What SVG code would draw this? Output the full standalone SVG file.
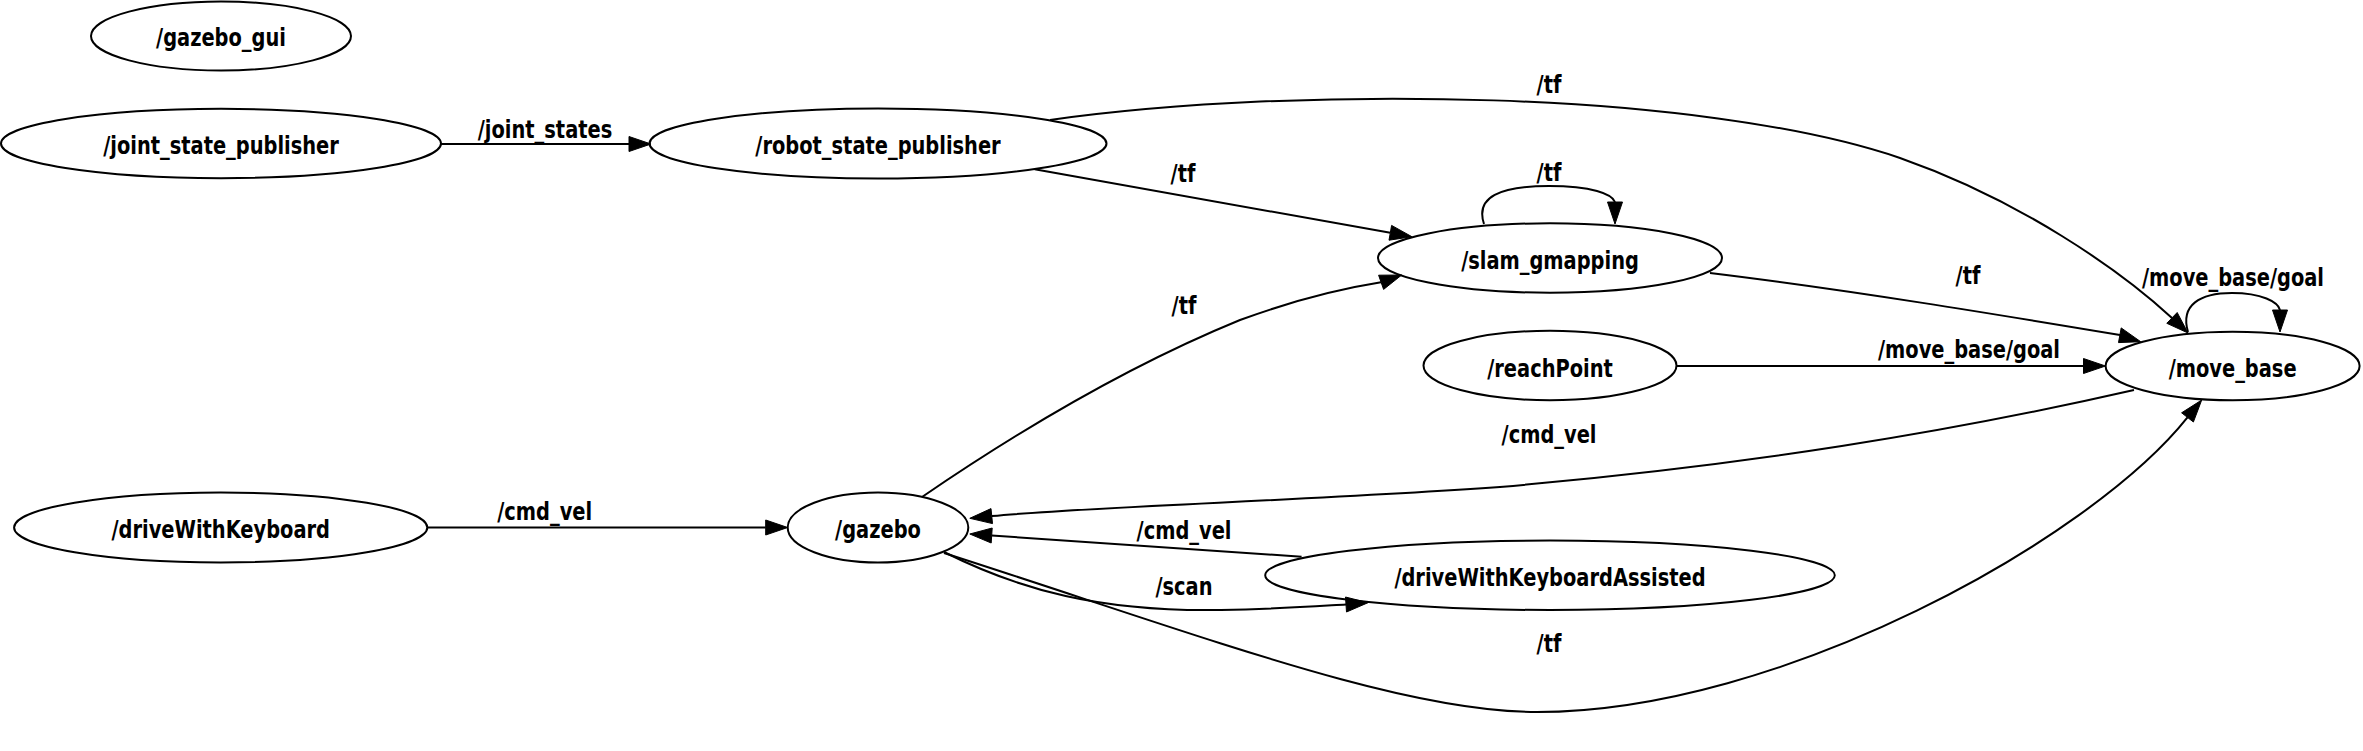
<svg xmlns="http://www.w3.org/2000/svg" width="2363" height="751" viewBox="0 0 2363 751">
<style>
.n ellipse{fill:none;stroke:#000;stroke-width:2}
text{font-family:'DejaVu Sans',sans-serif;font-weight:bold;font-size:25px;text-anchor:middle;fill:#000}
.e path{fill:none;stroke:#000;stroke-width:2}
.e polygon{fill:#000;stroke:#000;stroke-width:1}
</style>
<rect width="2363" height="751" fill="#fff"/>
<g id="gazebo_gui" class="n"><ellipse cx="221" cy="36" rx="130" ry="34.5"/><text transform="translate(221,46) scale(0.777,1)">/gazebo_gui</text></g>
<g id="joint_state_publisher" class="n"><ellipse cx="221" cy="143.5" rx="220" ry="34.7"/><text transform="translate(221,154) scale(0.777,1)">/joint_state_publisher</text></g>
<g id="robot_state_publisher" class="n"><ellipse cx="878" cy="143.5" rx="228.5" ry="35"/><text transform="translate(878,154) scale(0.777,1)">/robot_state_publisher</text></g>
<g id="slam_gmapping" class="n"><ellipse cx="1550" cy="258" rx="172" ry="34.7"/><text transform="translate(1550,268.5) scale(0.777,1)">/slam_gmapping</text></g>
<g id="reachPoint" class="n"><ellipse cx="1550" cy="365.5" rx="126.5" ry="34.7"/><text transform="translate(1550,376.5) scale(0.777,1)">/reachPoint</text></g>
<g id="move_base" class="n"><ellipse cx="2232.6" cy="366" rx="127" ry="34.2"/><text transform="translate(2232.6,376.5) scale(0.777,1)">/move_base</text></g>
<g id="driveWithKeyboard" class="n"><ellipse cx="220.7" cy="527.5" rx="206.6" ry="35"/><text transform="translate(220.7,538) scale(0.777,1)">/driveWithKeyboard</text></g>
<g id="gazebo" class="n"><ellipse cx="878" cy="527.5" rx="90.3" ry="35"/><text transform="translate(878,538) scale(0.777,1)">/gazebo</text></g>
<g id="driveWithKeyboardAssisted" class="n"><ellipse cx="1550" cy="575.3" rx="284.8" ry="34.7"/><text transform="translate(1550,585.5) scale(0.777,1)">/driveWithKeyboardAssisted</text></g>
<g id="edges" class="e">
<path d="M440.6,144 L629,144"/><polygon points="651,144 629,136.5 629,151.5"/><text transform="translate(545,137.5) scale(0.777,1)">/joint_states</text>
<path d="M1034.7,169.3 L1390.3,232.8"/><polygon points="1411.9,236.7 1391.6,225.4 1389,240.2"/><text transform="translate(1183,181.5) scale(0.777,1)">/tf</text>
<path d="M1050,120 C1300,85 1700,90 1900,158 C2020,200 2120,270 2172,318"/><polygon points="2188,333 2177.2,312.5 2166.8,323.3"/><text transform="translate(1549,93) scale(0.777,1)">/tf</text>
<path d="M1484,224 C1475,197 1500,186 1549,186 C1592,186 1612,194 1615,202"/><polygon points="1615,224 1607.5,202 1622.5,202"/><text transform="translate(1549,180.5) scale(0.777,1)">/tf</text>
<path d="M1710,273 C1850,290 2000,315 2120,335"/><polygon points="2140.7,341.7 2121.2,327.9 2118.5,342.6"/><text transform="translate(1968,284) scale(0.777,1)">/tf</text>
<path d="M1676,366 L2083.5,366"/><polygon points="2105.5,366 2083.5,358.5 2083.5,373.5"/><text transform="translate(1969,358) scale(0.777,1)">/move_base/goal</text>
<path d="M2188,332 C2180,305 2200,293 2232,293 C2262,293 2278,302 2280,310"/><polygon points="2280,332 2272.5,310 2287.5,310"/><text transform="translate(2233,285.5) scale(0.777,1)">/move_base/goal</text>
<path d="M2134,390 C1950,432 1750,465 1500,487 C1300,501 1100,506 991.7,516.1"/><polygon points="969.8,518.3 991,508.6 992.5,523.6"/><text transform="translate(1549,443) scale(0.777,1)">/cmd_vel</text>
<path d="M1301.6,556.7 L991.7,535.5"/><polygon points="969.8,534 992.2,528 991.2,543"/><text transform="translate(1184,539) scale(0.777,1)">/cmd_vel</text>
<path d="M944,552 C1020,590 1100,612 1221,610 C1280,609 1320,606 1346,604.5"/><polygon points="1368,602.7 1345.5,597 1346.5,612"/><text transform="translate(1184,595) scale(0.777,1)">/scan</text>
<path d="M944,553 C1200,635 1400,712 1537,712 C1780,712 2090,540 2187.5,417.4"/><polygon points="2201.7,400 2181.6,412.8 2193.4,422"/><text transform="translate(1549,652) scale(0.777,1)">/tf</text>
<path d="M922,497 C1020,430 1130,365 1240,320 C1300,298 1345,288 1381,282.3"/><polygon points="1401.7,275 1378.6,275.2 1383.6,289.4"/><text transform="translate(1184,314) scale(0.777,1)">/tf</text>
<path d="M427.3,527.5 L765.7,527.5"/><polygon points="787.7,527.5 765.7,520 765.7,535"/><text transform="translate(544.7,519.5) scale(0.777,1)">/cmd_vel</text>
</g>
</svg>
